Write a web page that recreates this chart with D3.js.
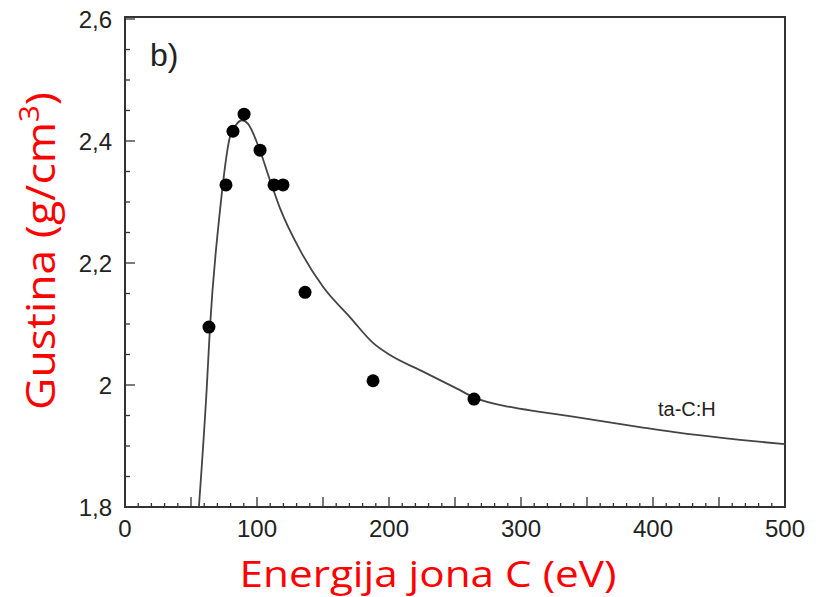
<!DOCTYPE html>
<html><head><meta charset="utf-8">
<script src="https://cdn.jsdelivr.net/npm/d3@7"></script>
<style>body{margin:0;background:#fff}svg{display:block}</style>
</head><body>
<svg id="c" width="822" height="597"></svg>
<script>
// Measured points (energy eV, density g/cm3)
const pointEnergy = [63.6, 76.5, 81.8, 90.2, 102.3, 112.9, 119.7, 136.4, 187.9, 264.4];
const pointDensity = [2.095, 2.328, 2.416, 2.444, 2.385, 2.328, 2.328, 2.152, 2.007, 1.977];
// Model curve
const curveEnergy = [56, 62, 64.4, 72, 79.5, 84, 88.6, 93.2, 102.3, 109.8, 117.4, 132.6, 150, 170.5, 187.9, 200.8, 225.8, 251.5, 265.2, 291.7, 314.4, 339.4, 390, 415, 466, 500];
const curveDensity = [1.80, 1.998, 2.095, 2.287, 2.407, 2.426, 2.434, 2.428, 2.384, 2.336, 2.290, 2.221, 2.161, 2.111, 2.069, 2.049, 2.022, 1.994, 1.979, 1.964, 1.956, 1.948, 1.931, 1.923, 1.910, 1.903];
const xTickValues = [0, 100, 200, 300, 400, 500];
const yTickValues = [1.8, 2.0, 2.2, 2.4, 2.6];
const yTickLabels = ["1,8", "2", "2,2", "2,4", "2,6"];

const svg = d3.select("#c");
const L = 125, R = 785, T = 19, B = 507;
const x = d3.scaleLinear().domain([0, 500]).range([L, R]);
const y = d3.scaleLinear().domain([1.8, 2.6]).range([B, T]);
const axisColor = "#333";

// frame
svg.append("rect").attr("x", L).attr("y", T - 2).attr("width", R - L).attr("height", B - T + 2)
  .attr("fill", "none").attr("stroke", axisColor).attr("stroke-width", 2);

// ticks (inward)
const g = svg.append("g");
d3.range(0, 501, 10).forEach(v => {
  const len = v % 50 === 0 ? 10 : 4;
  g.append("line").attr("x1", x(v)).attr("x2", x(v)).attr("y1", B).attr("y2", B - len)
    .attr("stroke", axisColor).attr("stroke-width", 1.3);
});
d3.range(0, 17).map(i => 1.8 + i * 0.05).forEach((v, i) => {
  const len = i % 4 === 0 ? 10 : 5;
  g.append("line").attr("x1", L).attr("x2", L + len).attr("y1", y(v)).attr("y2", y(v))
    .attr("stroke", axisColor).attr("stroke-width", 1.3);
});

const font = "'Liberation Sans', Arial, Helvetica, sans-serif";
xTickValues.forEach(v => {
  svg.append("text").attr("x", x(v)).attr("y", 537).attr("text-anchor", "middle")
    .attr("font-family", font).attr("font-size", 24).attr("fill", "#222").text(v);
});
yTickValues.forEach((v, i) => {
  svg.append("text").attr("x", 112).attr("y", y(v) + 9).attr("text-anchor", "end")
    .attr("font-family", font).attr("font-size", 24).attr("fill", "#222").text(yTickLabels[i]);
});

// curve
const line = d3.line().x(d => x(d[0])).y(d => y(d[1])).curve(d3.curveMonotoneX);
svg.append("path").datum(curveEnergy.map((e, i) => [e, curveDensity[i]]))
  .attr("d", line).attr("fill", "none").attr("stroke", "#444").attr("stroke-width", 1.8);

// points
svg.selectAll("circle.pt").data(pointEnergy.map((e, i) => [e, pointDensity[i]]))
  .enter().append("circle").attr("class", "pt")
  .attr("cx", d => x(d[0])).attr("cy", d => y(d[1])).attr("r", 6.5).attr("fill", "#000");

// labels
svg.append("text").attr("x", 150).attr("y", 66).attr("font-family", font).attr("font-size", 32)
  .attr("fill", "#222").text("b)");
svg.append("text").attr("x", 658).attr("y", 416).attr("font-family", font).attr("font-size", 20)
  .attr("fill", "#222").text("ta-C:H");

const tfont = "'Open Sans', Lato, sans-serif";
const xt = svg.append("text").attr("text-anchor", "middle")
  .attr("font-family", tfont).attr("font-size", 37).attr("fill", "#f00").text("Energija jona C (eV)");
const xw = xt.node().getComputedTextLength();
xt.attr("transform", `translate(428,587) scale(${377 / xw},1)`);

const yt = svg.append("text").attr("text-anchor", "middle")
  .attr("font-family", tfont).attr("font-size", 41).attr("fill", "#f00");
yt.append("tspan").text("Gustina (g/cm");
yt.append("tspan").attr("font-size", 27).attr("dy", -16).text("3");
yt.append("tspan").attr("dy", 16).text(")");
const yw = yt.node().getComputedTextLength();
yt.attr("transform", `translate(55,251) rotate(-90) scale(${318 / yw},1)`);
</script>
</body></html>
